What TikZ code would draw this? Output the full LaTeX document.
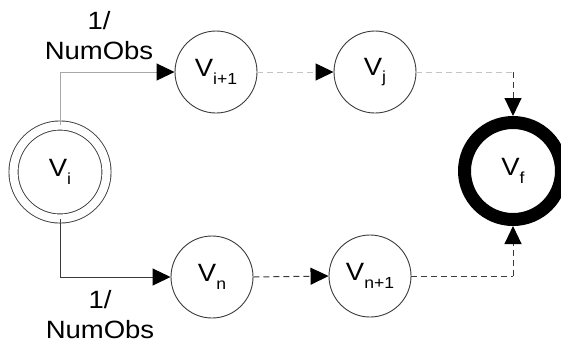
\documentclass[tikz,border=0pt]{standalone}
\usepackage{fontspec}
\setmainfont[FakeStretch=1.1]{Liberation Sans}
\usetikzlibrary{arrows.meta}
\definecolor{edgelight}{HTML}{A8A8A8}
\definecolor{dashlight}{HTML}{C4C4C4}
\definecolor{edgedark}{HTML}{3A3A3A}
\begin{document}
\begin{tikzpicture}[x=0.5pt,y=-0.5pt,
  state/.style={circle,draw=edgedark,line width=0.45pt,minimum size=41pt,inner sep=0pt,
    font=\fontsize{12.5}{15}\selectfont},
  lbl/.style={align=center,font=\fontsize{12.5}{15}\selectfont,inner sep=0pt},
  tip/.style={-{Triangle[length=9pt,width=8.5pt,color=black]}},
  conn/.style={line width=0.5pt},
  dashline/.style={dash pattern=on 3pt off 2pt}
]
\useasboundingbox (0,0) rectangle (561,344);
\newcommand{\vlab}[1]{V\raisebox{-0.55ex}{\fontsize{8}{9}\selectfont #1}}
% states
\node[state,double,double distance=4.1pt,minimum size=46.5pt] (vi) at (60,172) {\vlab{i}};
\node[state] (vip) at (216,72) {\vlab{i+1}};
\node[state] (vj) at (375,72) {\vlab{j}};
\node[state] (vn) at (212,277) {\vlab{n}};
\node[state] (vnp) at (370,276) {\vlab{n+1}};
\node[state,draw=black,line width=6.5pt,minimum size=48.5pt] (vf) at (513,171) {\vlab{f}};
% corner points
\coordinate (ctop) at (vf |- vj);
\coordinate (cbot) at (vf |- vnp);
% edges
\draw[conn,edgelight,tip] (vi.north) |- (vip.west);
\draw[conn,edgedark,tip] (vi.south) |- (vn.west);
\draw[conn,dashlight,dashline,tip] (vip.east) -- (vj.west);
\draw[conn,dashlight,dashline] (vj.east) -- (ctop);
\draw[conn,edgedark,dashline,tip] (ctop) -- (vf.north);
\draw[conn,edgedark,dashline,tip] (vn.east) -- (vnp.west);
\draw[conn,edgedark,dashline] (vnp.east) -- (cbot);
\draw[conn,edgedark,dashline,tip] (cbot) -- (vf.south);
% edge weights
\node[lbl] (wtop) at (99,36) {1/\\NumObs};
\node[lbl] (wbot) at (100,315) {1/\\NumObs};
\end{tikzpicture}
\end{document}
